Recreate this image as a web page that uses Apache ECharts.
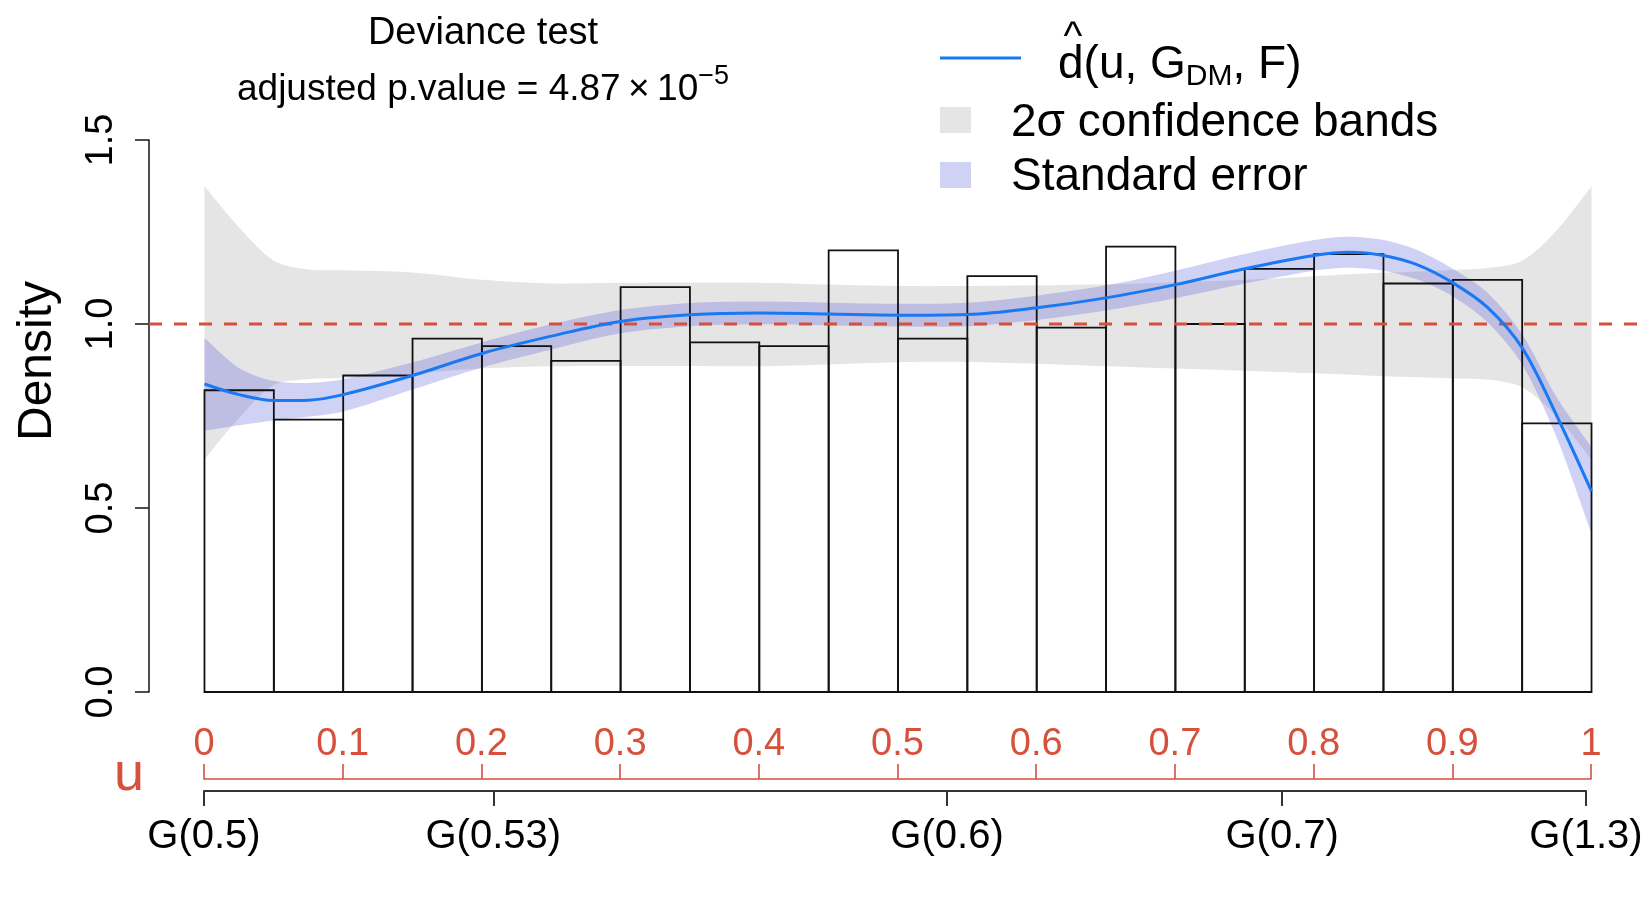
<!DOCTYPE html>
<html>
<head>
<meta charset="utf-8">
<title>Deviance test</title>
<script src="https://cdn.jsdelivr.net/npm/echarts@6/dist/echarts.min.js"></script>
<style>
  html, body { margin: 0; padding: 0; background: #fff; }
  #chart { width: 1650px; height: 900px; }
</style>
</head>
<body>
<div id="chart"></div>
<script>
// histogram of u = G(x)
const binBreaks = [0, 0.05, 0.1, 0.15, 0.2, 0.25, 0.3, 0.35, 0.4, 0.45, 0.5,
  0.55, 0.6, 0.65, 0.7, 0.75, 0.8, 0.85, 0.9, 0.95, 1]
const densities = [0.82, 0.74, 0.86, 0.96, 0.94, 0.90, 1.10, 0.95, 0.94, 1.20,
  0.96, 1.13, 0.99, 1.21, 1.00, 1.15, 1.19, 1.11, 1.12, 0.73]

// comparison density estimate d(u, G_DM, F) and its bands
const uGrid = [0, 0.025, 0.05, 0.075, 0.1, 0.15, 0.2, 0.25, 0.3, 0.35, 0.4, 0.45, 0.5,
  0.55, 0.6, 0.65, 0.7, 0.75, 0.8, 0.825, 0.85, 0.875, 0.9, 0.925, 0.95, 0.975, 1]
const dHat = [0.837, 0.808, 0.792, 0.793, 0.808, 0.860, 0.920, 0.967, 1.007, 1.025, 1.030, 1.027, 1.024,
  1.026, 1.044, 1.071, 1.107, 1.150, 1.186, 1.195, 1.186, 1.160, 1.112, 1.045, 0.935, 0.750, 0.545]
const seUpper = [0.962, 0.880, 0.845, 0.840, 0.850, 0.896, 0.950, 0.999, 1.038, 1.057, 1.061, 1.058, 1.055,
  1.058, 1.077, 1.105, 1.145, 1.190, 1.228, 1.237, 1.228, 1.200, 1.150, 1.085, 0.972, 0.800, 0.665]
const seLower = [0.710, 0.725, 0.738, 0.748, 0.762, 0.822, 0.882, 0.931, 0.975, 0.994, 0.999, 0.996, 0.993,
  0.994, 1.011, 1.037, 1.070, 1.110, 1.145, 1.153, 1.145, 1.120, 1.075, 1.005, 0.890, 0.690, 0.430]
const bandUpper = [1.374, 1.262, 1.172, 1.148, 1.146, 1.140, 1.120, 1.110, 1.112, 1.113, 1.112, 1.107, 1.103,
  1.103, 1.105, 1.108, 1.113, 1.120, 1.130, 1.135, 1.139, 1.143, 1.147, 1.152, 1.172, 1.255, 1.374]
const bandLower = [0.632, 0.745, 0.835, 0.850, 0.853, 0.866, 0.879, 0.885, 0.886, 0.886, 0.885, 0.890, 0.896,
  0.897, 0.892, 0.885, 0.879, 0.873, 0.866, 0.862, 0.858, 0.855, 0.852, 0.849, 0.828, 0.748, 0.632]

const nullDensity = 1

// second axis: quantiles of G
const gTickPos = [0, 0.2085, 0.5355, 0.777, 0.996]
const gTickLabels = ['G(0.5)', 'G(0.53)', 'G(0.6)', 'G(0.7)', 'G(1.3)']

const FONT = '"Liberation Sans", Arial, Helvetica, sans-serif'
const RED = '#d6503c'
const BLUE = '#1a78f2'
const GRAY = '#e6e5e6'
const LAVENDER = 'rgba(59, 67, 213, 0.24)'
const X_MIN = -0.04
const X_MAX = 1.04

const chart = echarts.init(document.getElementById('chart'), null, { renderer: 'canvas' })

// filled band between two curves, corners doubled so the smoothing keeps the end edges straight
const bandSeries = (lower, upper, color, z) => ({
  type: 'custom',
  xAxisIndex: 0,
  yAxisIndex: 0,
  silent: true,
  z: z,
  data: [[0, 0]],
  renderItem: (params, api) => {
    const top = uGrid.map((u, i) => api.coord([u, upper[i]]))
    const bot = uGrid.map((u, i) => api.coord([u, lower[i]])).reverse()
    const pts = [top[0]].concat(top, [top[top.length - 1], bot[0]], bot, [bot[bot.length - 1]])
    return {
      type: 'polygon',
      shape: { points: pts, smooth: 0.3 },
      style: { fill: color }
    }
  }
})

const option = {
  backgroundColor: '#fff',
  animation: false,
  textStyle: { fontFamily: FONT },
  grid: [
    { left: 149, right: 3, top: 140, bottom: 208 },
    { left: 204, right: 59, top: 779, bottom: 900 - 791 },
    { left: 204, right: 64, top: 700, bottom: 900 - 791 }
  ],
  xAxis: [
    { type: 'value', gridIndex: 0, min: X_MIN, max: X_MAX, show: false },
    {
      type: 'value', gridIndex: 1, position: 'top', min: 0, max: 1, interval: 0.1,
      axisLine: { show: true, onZero: false, lineStyle: { color: RED, width: 1.6 } },
      axisTick: { show: true, length: 15, lineStyle: { color: RED, width: 1.6 } },
      axisLabel: { color: RED, fontSize: 38, margin: 15, fontFamily: FONT, showMinLabel: true, showMaxLabel: true },
      splitLine: { show: false }
    },
    {
      type: 'value', gridIndex: 2, position: 'bottom', min: 0, max: gTickPos[gTickPos.length - 1],
      axisLine: { show: true, onZero: false, lineStyle: { color: '#333', width: 2 } },
      axisTick: { show: true, length: 15, customValues: gTickPos, lineStyle: { color: '#333', width: 2 } },
      axisLabel: {
        color: '#000', fontSize: 40, margin: 26, fontFamily: FONT, customValues: gTickPos,
        formatter: (v) => {
          const i = gTickPos.findIndex(p => Math.abs(p - v) < 1e-9)
          return i >= 0 ? gTickLabels[i] : ''
        }
      },
      splitLine: { show: false }
    }
  ],
  yAxis: [
    {
      type: 'value', gridIndex: 0, min: 0, max: 1.5, interval: 0.5,
      axisLine: { show: true, onZero: false, lineStyle: { color: '#222', width: 1.6 } },
      axisTick: { show: true, length: 14, lineStyle: { color: '#222', width: 1.6 } },
      axisLabel: { color: '#000', fontSize: 38, rotate: 90, margin: 28, fontFamily: FONT, formatter: (v) => v.toFixed(1) },
      splitLine: { show: false }
    },
    { type: 'value', gridIndex: 1, min: 0, max: 1, show: false },
    { type: 'value', gridIndex: 2, min: 0, max: 1, show: false }
  ],
  series: [
    bandSeries(bandLower, bandUpper, GRAY, 1),
    bandSeries(seLower, seUpper, LAVENDER, 2),
    {
      name: 'histogram',
      type: 'custom',
      xAxisIndex: 0,
      yAxisIndex: 0,
      z: 3,
      silent: true,
      data: densities.map((d, i) => [binBreaks[i], binBreaks[i + 1], d]),
      encode: { x: [0, 1], y: 2 },
      renderItem: (params, api) => {
        const p0 = api.coord([api.value(0), api.value(2)])
        const p1 = api.coord([api.value(1), 0])
        return {
          type: 'rect',
          shape: { x: p0[0], y: p0[1], width: p1[0] - p0[0], height: p1[1] - p0[1] },
          style: { fill: 'none', stroke: '#111', lineWidth: 1.8 }
        }
      }
    },
    {
      name: 'null',
      type: 'line',
      z: 4,
      silent: true,
      symbol: 'none',
      data: [[X_MIN, nullDensity], [X_MAX, nullDensity]],
      lineStyle: { color: RED, width: 3, type: [13, 12] }
    },
    {
      name: 'dhat',
      type: 'line',
      z: 5,
      silent: true,
      symbol: 'none',
      smooth: 0.35,
      data: uGrid.map((u, i) => [u, dHat[i]]),
      lineStyle: { color: BLUE, width: 3 }
    }
  ],
  graphic: [
    // title
    {
      type: 'text', x: 483, y: 34, z: 10,
      style: { text: 'Deviance test', fontSize: 38, fontFamily: FONT, fill: '#000', align: 'center', verticalAlign: 'middle' }
    },
    {
      type: 'text', x: 483, y: 90, z: 10,
      style: {
        text: '{a|adjusted p.value = 4.87\u2009×\u200910}{b|−5}',
        align: 'center', verticalAlign: 'middle',
        rich: {
          a: { fontSize: 37, fontFamily: FONT, fill: '#000' },
          b: { fontSize: 27, fontFamily: FONT, fill: '#000', padding: [0, 0, 27, 0] }
        }
      }
    },
    // axis titles
    {
      type: 'text', x: 38, y: 361, rotation: Math.PI / 2, z: 10,
      style: { text: 'Density', fontSize: 48, fontFamily: FONT, fill: '#000', align: 'center', verticalAlign: 'middle' }
    },
    {
      type: 'text', x: 129, y: 775, z: 10,
      style: { text: 'u', fontSize: 54, fontFamily: FONT, fill: RED, align: 'center', verticalAlign: 'middle' }
    },
    // legend
    { type: 'line', z: 10, shape: { x1: 940, y1: 58, x2: 1021, y2: 58 }, style: { stroke: BLUE, lineWidth: 3 } },
    { type: 'rect', z: 10, shape: { x: 940, y: 107, width: 31, height: 26 }, style: { fill: GRAY } },
    { type: 'rect', z: 10, shape: { x: 940, y: 162, width: 31, height: 26 }, style: { fill: LAVENDER } },
    {
      type: 'text', x: 1073, y: 38, z: 10,
      style: { text: '^', fontSize: 40, fontFamily: FONT, fill: '#000', align: 'center', verticalAlign: 'middle' }
    },
    {
      type: 'text', x: 1058, y: 65, z: 10,
      style: {
        text: '{a|d(u, G}{b|DM}{a|, F)}',
        align: 'left', verticalAlign: 'middle',
        rich: {
          a: { fontSize: 46, fontFamily: FONT, fill: '#000' },
          b: { fontSize: 30, fontFamily: FONT, fill: '#000', padding: [23, 0, 0, 0] }
        }
      }
    },
    {
      type: 'text', x: 1011, y: 123, z: 10,
      style: { text: '2σ confidence bands', fontSize: 46, fontFamily: FONT, fill: '#000', align: 'left', verticalAlign: 'middle' }
    },
    {
      type: 'text', x: 1011, y: 177, z: 10,
      style: { text: 'Standard error', fontSize: 46, fontFamily: FONT, fill: '#000', align: 'left', verticalAlign: 'middle' }
    }
  ]
}

chart.setOption(option)
</script>
</body>
</html>
